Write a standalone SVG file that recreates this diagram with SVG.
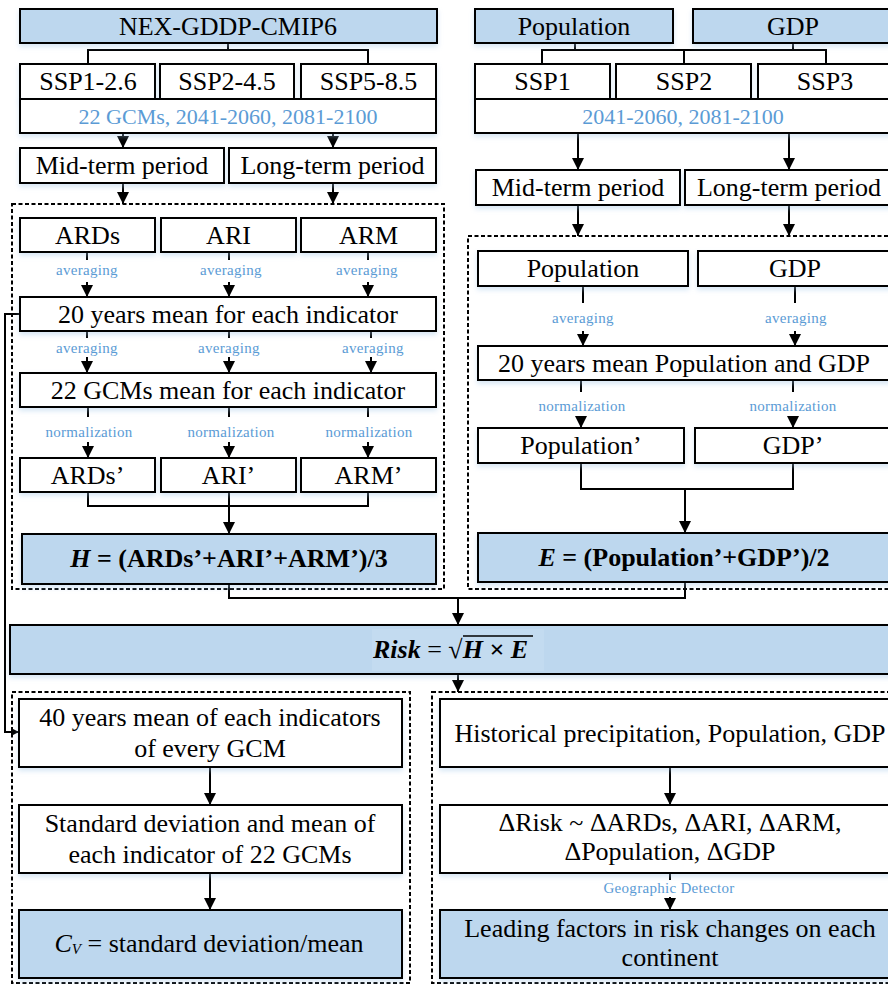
<svg xmlns="http://www.w3.org/2000/svg" width="888" height="984" viewBox="0 0 888 984">
<defs>
<style>
.box{fill:#fff;stroke:#000;stroke-width:2;filter:url(#sh)}
.blue{fill:#bdd7ee}
.dash{fill:none;stroke:#000;stroke-width:2;stroke-dasharray:4 2.5}
text{font-family:"Liberation Serif","Tinos","Times New Roman","DejaVu Serif",serif}
.t{font-size:26px;text-anchor:middle;fill:#000}
.b{font-weight:bold}
.i{font-style:italic}
.s{font-size:15px;text-anchor:middle;fill:#5b9bd5;letter-spacing:0.3px}
.m{font-size:22px;text-anchor:middle;fill:#5b9bd5}
.c{fill:none;stroke:#000;stroke-width:2}
.a{marker-end:url(#ar)}
</style>
<filter id="sh" x="-5%" y="-20%" width="110%" height="160%">
<feDropShadow dx="0" dy="3" stdDeviation="2.5" flood-color="#9dc3e6" flood-opacity="0.4"/>
</filter>
<marker id="ar" markerUnits="userSpaceOnUse" markerWidth="14" markerHeight="14" refX="12" refY="6" orient="auto">
<path d="M0,0 L12,6 L0,12 z" fill="#000"/>
</marker>
<marker id="ar2" markerUnits="userSpaceOnUse" markerWidth="10" markerHeight="10" refX="8" refY="4" orient="auto">
<path d="M0,0 L8,4 L0,8 z" fill="#000"/>
</marker>
</defs>
<rect width="888" height="984" fill="#fff"/>

<g id="frames">
<rect class="dash" x="12" y="204" width="432" height="385"/>
<rect class="dash" x="468" y="236" width="440" height="353"/>
<rect class="dash" x="12" y="692" width="398" height="291"/>
<rect class="dash" x="432" y="692" width="470" height="291"/>
</g>

<g id="connectors">
<path class="c" d="M228,43 V50 M88,64 V50 H368 V64"/>
<path class="c" d="M575,43 V50 M793,43 V50 M542,64 V50 H826 V64 M684,50 V64"/>
<path class="c a" d="M123,133 V148"/>
<path class="c a" d="M333,133 V148"/>
<path class="c a" d="M123,183 V204"/>
<path class="c a" d="M333,183 V204"/>
<path class="c a" d="M578,133 V170"/>
<path class="c a" d="M789,133 V170"/>
<path class="c a" d="M578,205 V236"/>
<path class="c a" d="M789,205 V236"/>
<path class="c" d="M87,252 V260 M229,252 V260 M368,252 V260"/>
<path class="c a" d="M87,282 V297"/>
<path class="c a" d="M229,282 V297"/>
<path class="c a" d="M368,282 V297"/>
<path class="c" d="M87,331 V338 M229,331 V338 M371,331 V338"/>
<path class="c a" d="M87,357 V373"/>
<path class="c a" d="M229,357 V373"/>
<path class="c a" d="M371,357 V373"/>
<path class="c" d="M88,407 V417 M229,407 V417 M368,407 V417"/>
<path class="c a" d="M88,442 V458"/>
<path class="c a" d="M229,442 V458"/>
<path class="c a" d="M368,442 V458"/>
<path class="c" d="M88,492 V506 H368 V492"/>
<path class="c a" d="M229,492 V534"/>
<path class="c" d="M583,286 V303 M795,286 V303"/>
<path class="c a" d="M583,331 V346"/>
<path class="c a" d="M795,331 V346"/>
<path class="c" d="M581,380 V392 M793,380 V392"/>
<path class="c a" d="M581,416 V428"/>
<path class="c a" d="M793,416 V428"/>
<path class="c" d="M581,463 V489 H793 V463"/>
<path class="c a" d="M685,489 V533"/>
<path class="c" d="M229,584 V598 H685 V582"/>
<path class="c a" d="M458,598 V625"/>
<path class="c a" d="M458,674 V692"/>
<path class="c" d="M20,314 H5 V732 H19" marker-end="url(#ar2)"/>
<path class="c a" d="M210,767 V805"/>
<path class="c a" d="M210,873 V910"/>
<path class="c a" d="M670,767 V805"/>
<path class="c" d="M670,873 V880"/>
<path class="c a" d="M670,897 V910"/>
</g>

<g id="labels">
<text class="s" x="87" y="275">averaging</text>
<text class="s" x="231" y="275">averaging</text>
<text class="s" x="367" y="275">averaging</text>
<text class="s" x="87" y="353">averaging</text>
<text class="s" x="229" y="353">averaging</text>
<text class="s" x="373" y="353">averaging</text>
<text class="s" x="89" y="437">normalization</text>
<text class="s" x="231" y="437">normalization</text>
<text class="s" x="369" y="437">normalization</text>
<text class="s" x="583" y="323">averaging</text>
<text class="s" x="796" y="323">averaging</text>
<text class="s" x="582" y="411">normalization</text>
<text class="s" x="793" y="411">normalization</text>
<text class="s" x="669" y="893">Geographic Detector</text>
</g>

<g id="n_nex"><rect class="box blue" x="20" y="9" width="417" height="34"/><text class="t" x="228" y="34.5">NEX-GDDP-CMIP6</text></g>
<g id="n_ssp126"><rect class="box" x="20" y="64" width="135" height="35"/><text class="t" x="88" y="90">SSP1-2.6</text></g>
<g id="n_ssp245"><rect class="box" x="160" y="64" width="134" height="35"/><text class="t" x="227" y="90">SSP2-4.5</text></g>
<g id="n_ssp585"><rect class="box" x="301" y="64" width="135" height="35"/><text class="t" x="368.5" y="90">SSP5-8.5</text></g>
<g id="n_gcms"><rect class="box" x="20" y="99" width="416" height="34"/><text class="m" x="228" y="123.5">22 GCMs, 2041-2060, 2081-2100</text></g>
<g id="n_mid_l"><rect class="box" x="20" y="148" width="204" height="35"/><text class="t" x="122" y="174">Mid-term period</text></g>
<g id="n_long_l"><rect class="box" x="229" y="148" width="207" height="35"/><text class="t" x="332.5" y="174">Long-term period</text></g>

<g id="n_ards"><rect class="box" x="20" y="218" width="135" height="34"/><text class="t" x="87.5" y="243.5">ARDs</text></g>
<g id="n_ari"><rect class="box" x="161" y="218" width="135" height="34"/><text class="t" x="228.5" y="243.5">ARI</text></g>
<g id="n_arm"><rect class="box" x="301" y="218" width="135" height="34"/><text class="t" x="368.5" y="243.5">ARM</text></g>
<g id="n_20y"><rect class="box" x="20" y="297" width="416" height="34"/><text class="t" x="228" y="322.5">20 years mean for each indicator</text></g>
<g id="n_22g"><rect class="box" x="20" y="373" width="416" height="34"/><text class="t" x="228" y="398.5">22 GCMs mean for each indicator</text></g>
<g id="n_ards2"><rect class="box" x="20" y="458" width="135" height="34"/><text class="t" x="87.5" y="483.5">ARDs’</text></g>
<g id="n_ari2"><rect class="box" x="161" y="458" width="135" height="34"/><text class="t" x="228.5" y="483.5">ARI’</text></g>
<g id="n_arm2"><rect class="box" x="301" y="458" width="135" height="34"/><text class="t" x="368.5" y="483.5">ARM’</text></g>
<g id="n_H"><rect class="box blue" x="22" y="534" width="414" height="50"/><text class="t b" x="229" y="567"><tspan class="i">H</tspan> = (ARDs’+ARI’+ARM’)/3</text></g>

<g id="n_pop"><rect class="box blue" x="475" y="9" width="198" height="34"/><text class="t" x="574" y="34.5">Population</text></g>
<g id="n_gdp"><rect class="box blue" x="693" y="9" width="210" height="34"/><text class="t" x="793" y="34.5">GDP</text></g>
<g id="n_ssp1"><rect class="box" x="475" y="64" width="135" height="35"/><text class="t" x="542.5" y="90">SSP1</text></g>
<g id="n_ssp2"><rect class="box" x="616" y="64" width="135" height="35"/><text class="t" x="684" y="90">SSP2</text></g>
<g id="n_ssp3"><rect class="box" x="758" y="64" width="140" height="35"/><text class="t" x="825" y="90">SSP3</text></g>
<g id="n_years"><rect class="box" x="475" y="99" width="430" height="34"/><text class="m" x="683" y="123.5">2041-2060, 2081-2100</text></g>
<g id="n_mid_r"><rect class="box" x="476" y="170" width="204" height="35"/><text class="t" x="578" y="196">Mid-term period</text></g>
<g id="n_long_r"><rect class="box" x="685" y="170" width="215" height="35"/><text class="t" x="789" y="196">Long-term period</text></g>

<g id="n_pop_in"><rect class="box" x="478" y="251" width="210" height="35"/><text class="t" x="583" y="277">Population</text></g>
<g id="n_gdp_in"><rect class="box" x="698" y="251" width="210" height="35"/><text class="t" x="795" y="277">GDP</text></g>
<g id="n_20yr"><rect class="box" x="478" y="346" width="430" height="34"/><text class="t" x="684" y="371.5">20 years mean Population and GDP</text></g>
<g id="n_pop2"><rect class="box" x="478" y="428" width="206" height="35"/><text class="t" x="581" y="454">Population’</text></g>
<g id="n_gdp2"><rect class="box" x="695" y="428" width="210" height="35"/><text class="t" x="793" y="454">GDP’</text></g>
<g id="n_E"><rect class="box blue" x="478" y="533" width="430" height="49"/><text class="t b" x="684" y="566"><tspan class="i">E</tspan> = (Population’+GDP’)/2</text></g>

<g id="n_risk">
<rect class="box blue" x="10" y="625" width="900" height="49"/>
<rect x="372" y="629" width="172" height="42" fill="#c3dbf0"/>
<text class="t" x="373" y="658" style="text-anchor:start"><tspan class="b i">Risk</tspan> = √<tspan class="b i">H × E</tspan></text>
<line x1="463" y1="636" x2="533" y2="636" stroke="#000" stroke-width="1.5"/>
</g>

<g id="n_40y"><rect class="box" x="19" y="699" width="383" height="68"/><text class="t" x="210" y="726">40 years mean of each indicators</text><text class="t" x="210" y="757">of every GCM</text></g>
<g id="n_sd"><rect class="box" x="19" y="805" width="383" height="68"/><text class="t" x="210" y="832">Standard deviation and mean of</text><text class="t" x="210" y="863">each indicator of 22 GCMs</text></g>
<g id="n_cv"><rect class="box blue" x="19" y="910" width="383" height="68"/><text class="t" x="209" y="952"><tspan class="i">C</tspan><tspan class="i" font-size="15" dy="2">V</tspan><tspan dy="-2"> = standard deviation/mean</tspan></text></g>

<g id="n_hist"><rect class="box" x="440" y="699" width="460" height="68"/><text class="t" x="670" y="741.5">Historical precipitation, Population, GDP</text></g>
<g id="n_drisk"><rect class="box" x="440" y="805" width="460" height="68"/><text class="t" x="670" y="831">ΔRisk ~ ΔARDs, ΔARI, ΔARM,</text><text class="t" x="670" y="860">ΔPopulation, ΔGDP</text></g>
<g id="n_lead"><rect class="box blue" x="440" y="910" width="460" height="68"/><text class="t" x="670" y="937">Leading factors in risk changes on each</text><text class="t" x="670" y="966">continent</text></g>
</svg>
